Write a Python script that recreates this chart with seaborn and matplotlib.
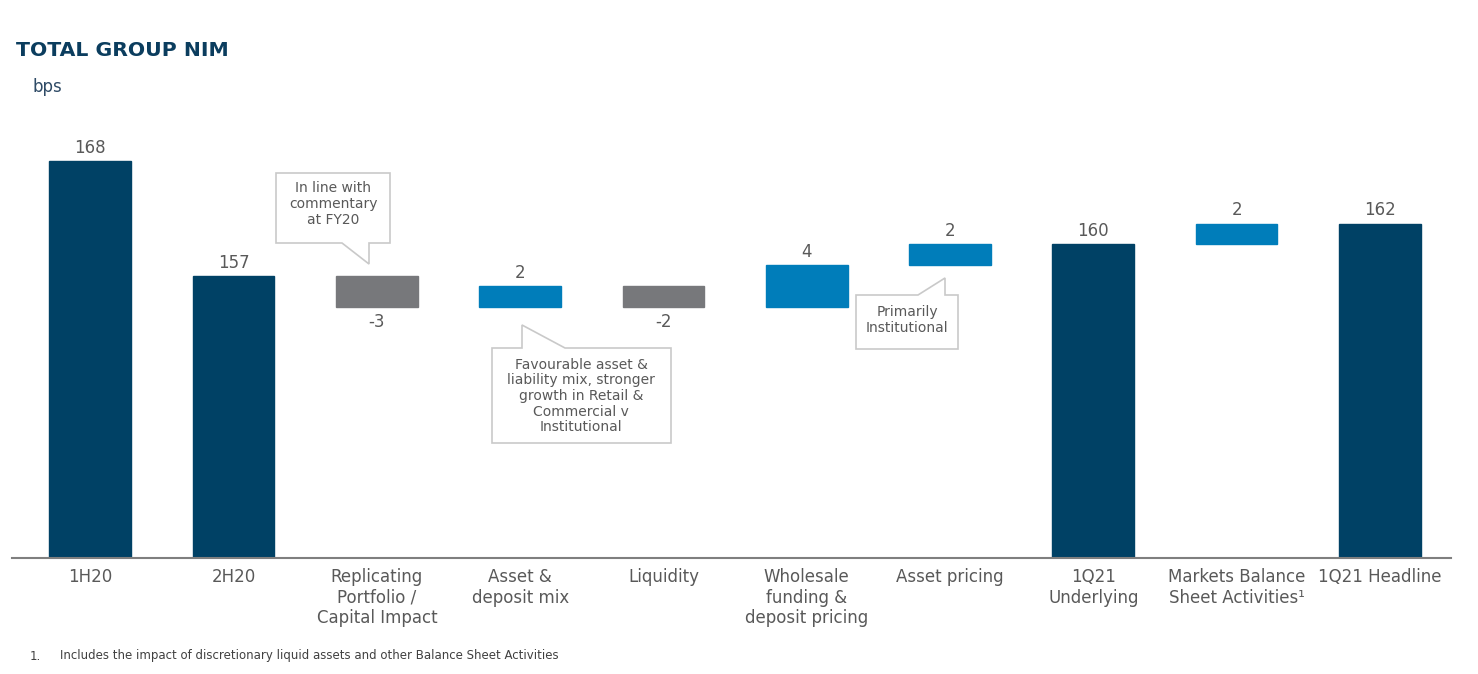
import numpy as np
import pandas as pd
import seaborn as sns
import matplotlib.pyplot as plt
from matplotlib.patches import Polygon

# data (bps)
categories = ["1H20", "2H20", "Replicating\nPortfolio /\nCapital Impact", "Asset &\ndeposit mix",
              "Liquidity", "Wholesale\nfunding &\ndeposit pricing", "Asset pricing",
              "1Q21\nUnderlying", "Markets Balance\nSheet Activities\u00b9", "1Q21 Headline"]
values = [168, 157, -3, 2, -2, 4, 2, 160, 2, 162]
kinds = ["total", "total", "delta", "delta", "delta", "delta", "delta", "total", "delta", "total"]
axis_floor = 130
axis_top = 170

navy = "#004165"
blue = "#007DBA"
grey = "#77787B"
txt = "#595959"

# build waterfall bottoms / heights
bottoms, heights, colors = [], [], []
running = 0
for v, k in zip(values, kinds):
    if k == "total":
        bottoms.append(axis_floor)
        heights.append(v - axis_floor)
        colors.append(navy)
        running = v
    else:
        bottoms.append(running if v > 0 else running + v)
        heights.append(abs(v))
        colors.append(blue if v > 0 else grey)
        running += v

df = pd.DataFrame({"label": categories, "height": heights, "bottom": bottoms,
                   "value": values, "kind": kinds})

sns.set_style("white")
plt.rcParams["font.family"] = ["DejaVu Sans"]

W, H = 1478, 674
fig = plt.figure(figsize=(W / 100, H / 100), dpi=100)
ax = fig.add_axes([11.5 / W, 116 / H, 1440 / W, 418 / H])

sns.barplot(data=df, x="label", y="height", order=categories, bottom=df["bottom"].values,
            color=navy, width=0.57, saturation=1, errorbar=None, ax=ax)
for patch, c in zip(ax.patches, colors):
    patch.set_facecolor(c)
    patch.set_edgecolor(c)

ax.set_xlim(-0.55, 9.5)
ax.set_ylim(axis_floor, axis_top)
sns.despine(ax=ax, left=True)
ax.spines["bottom"].set_color("#7F7F7F")
ax.spines["bottom"].set_linewidth(1.5)
ax.set_yticks([])
ax.set_xlabel("")
ax.set_ylabel("")
ax.tick_params(axis="x", length=0, pad=7, labelsize=12, labelcolor=txt)
for t in ax.get_xticklabels():
    t.set_linespacing(1.2)

# value labels
for i, row in df.iterrows():
    top = row["bottom"] + row["height"]
    if row["value"] >= 0:
        ax.annotate(f"{row['value']}", (i, top), xytext=(0, 3), textcoords="offset points",
                    ha="center", va="bottom", fontsize=12, color=txt)
    else:
        ax.annotate(f"{row['value']}", (i, row["bottom"]), xytext=(0, -4), textcoords="offset points",
                    ha="center", va="top", fontsize=12, color=txt)


def fp(x, y):
    return (x / W, 1 - y / H)


def callout(pts, text, center):
    poly = Polygon([fp(x, y) for x, y in pts], closed=True, transform=fig.transFigure,
                   facecolor="white", edgecolor="#C9C9C9", linewidth=1.2)
    fig.add_artist(poly)
    fig.text(*fp(*center), text, ha="center", va="center", fontsize=10, color=txt,
             linespacing=1.15)


callout([(276, 173), (390, 173), (390, 243), (369, 243), (369, 264), (342, 243), (276, 243)],
        "In line with\ncommentary\nat FY20", (333, 204))
callout([(492, 348), (522, 348), (522, 325), (565, 348), (671, 348), (671, 443), (492, 443)],
        "Favourable asset &\nliability mix, stronger\ngrowth in Retail &\nCommercial v\nInstitutional",
        (581, 396))
callout([(856, 295), (918, 295), (945, 278), (945, 295), (958, 295), (958, 349), (856, 349)],
        "Primarily\nInstitutional", (907, 320))

fig.text(*fp(16, 50), "TOTAL GROUP NIM", fontsize=14.7, fontweight="heavy", color="#0B3D5E",
         ha="left", va="center")
fig.text(*fp(32, 87), "bps", fontsize=12, color="#2F4B66", ha="left", va="center")
fig.text(*fp(30, 656), "1.", fontsize=8.5, color="#404040", ha="left", va="center")
fig.text(*fp(60, 656), "Includes the impact of discretionary liquid assets and other Balance Sheet Activities",
         fontsize=8.5, color="#404040", ha="left", va="center")

fig.savefig("out.png", dpi=100)
